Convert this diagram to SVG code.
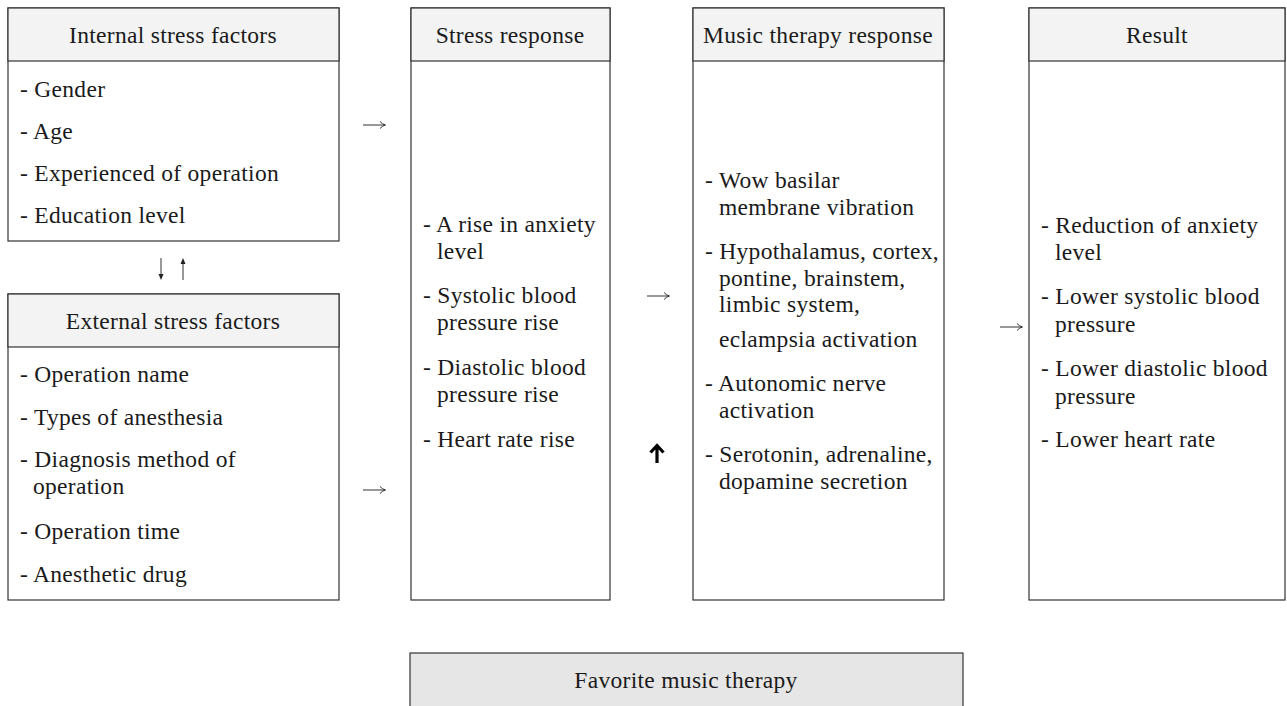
<svg xmlns="http://www.w3.org/2000/svg" width="1287" height="706" viewBox="0 0 1287 706">
<style>
.box{fill:#fff;stroke:#333;stroke-width:1.2}
.hdr{fill:#f2f3f2;stroke:#333;stroke-width:1.2}
.fav{fill:#e6e6e6;stroke:#333;stroke-width:1.2}
text{font-family:"Liberation Serif","DejaVu Serif",serif;font-size:23.5px;letter-spacing:0.3px;fill:#1a1a1a}
.c{text-anchor:middle}
.ln{fill:none;stroke:#333;stroke-width:1}
.hd{fill:#222;stroke:none}
</style>
<rect width="1287" height="706" fill="#fff"/>
<g id="internal">
<rect class="box" x="8" y="8" width="331" height="233"/>
<rect class="hdr" x="8" y="8" width="331" height="53"/>
<text class="c" x="173" y="43">Internal stress factors</text>
<text x="20" y="97">- Gender</text>
<text x="20" y="139">- Age</text>
<text x="20" y="181">- Experienced of operation</text>
<text x="20" y="223">- Education level</text>
</g>
<g id="external">
<rect class="box" x="8" y="294" width="331" height="306"/>
<rect class="hdr" x="8" y="294" width="331" height="53"/>
<text class="c" x="173" y="329">External stress factors</text>
<text x="20" y="382">- Operation name</text>
<text x="20" y="425">- Types of anesthesia</text>
<text x="20" y="467">- Diagnosis method of</text>
<text x="33" y="494">operation</text>
<text x="20" y="539">- Operation time</text>
<text x="20" y="582">- Anesthetic drug</text>
</g>
<g id="stress">
<rect class="box" x="411" y="8" width="199" height="592"/>
<rect class="hdr" x="411" y="8" width="199" height="53"/>
<text class="c" x="510" y="43">Stress response</text>
<text x="423" y="232">- A rise in anxiety</text>
<text x="437" y="259">level</text>
<text x="423" y="303">- Systolic blood</text>
<text x="437" y="330">pressure rise</text>
<text x="423" y="375">- Diastolic blood</text>
<text x="437" y="402">pressure rise</text>
<text x="423" y="447">- Heart rate rise</text>
</g>
<g id="music">
<rect class="box" x="693" y="8" width="251" height="592"/>
<rect class="hdr" x="693" y="8" width="251" height="53"/>
<text class="c" x="818" y="43">Music therapy response</text>
<text x="705" y="188">- Wow basilar</text>
<text x="719" y="215">membrane vibration</text>
<text x="705" y="259">- Hypothalamus, cortex,</text>
<text x="719" y="286">pontine, brainstem,</text>
<text x="719" y="312">limbic system,</text>
<text x="719" y="347">eclampsia activation</text>
<text x="705" y="391">- Autonomic nerve</text>
<text x="719" y="418">activation</text>
<text x="705" y="462">- Serotonin, adrenaline,</text>
<text x="719" y="489">dopamine secretion</text>
</g>
<g id="result">
<rect class="box" x="1029" y="8" width="256" height="592"/>
<rect class="hdr" x="1029" y="8" width="256" height="53"/>
<text class="c" x="1157" y="43">Result</text>
<text x="1041" y="233">- Reduction of anxiety</text>
<text x="1055" y="260">level</text>
<text x="1041" y="304">- Lower systolic blood</text>
<text x="1055" y="332">pressure</text>
<text x="1041" y="376">- Lower diastolic blood</text>
<text x="1055" y="404">pressure</text>
<text x="1041" y="447">- Lower heart rate</text>
</g>
<g id="favorite">
<rect class="fav" x="410" y="653" width="553" height="60"/>
<text class="c" x="686" y="688">Favorite music therapy</text>
</g>
<g id="connectors">
<path class="ln" d="M363 125 H385 M380 121.5 Q382 124 385.5 125 Q382 126 380 128.5"/>
<path class="ln" d="M363 490 H385 M380 486.5 Q382 489 385.5 490 Q382 491 380 493.5"/>
<path class="ln" d="M647 296 H669 M664 292.5 Q666 295 669.5 296 Q666 297 664 299.5"/>
<path class="ln" d="M1000 327 H1022 M1017 323.5 Q1019 326 1022.5 327 Q1019 328 1017 330.5"/>
<path class="ln" d="M161 258 V276"/>
<path class="hd" d="M158.5 274 L161 280 L163.5 274 Z"/>
<path class="ln" d="M183 262 V280"/>
<path class="hd" d="M180.5 264 L183 258 L185.5 264 Z"/>
<path d="M657 463 V446 M650.5 452.5 L657 445.5 L663.5 452.5" fill="none" stroke="#000" stroke-width="3.2"/>
</g>
</svg>
